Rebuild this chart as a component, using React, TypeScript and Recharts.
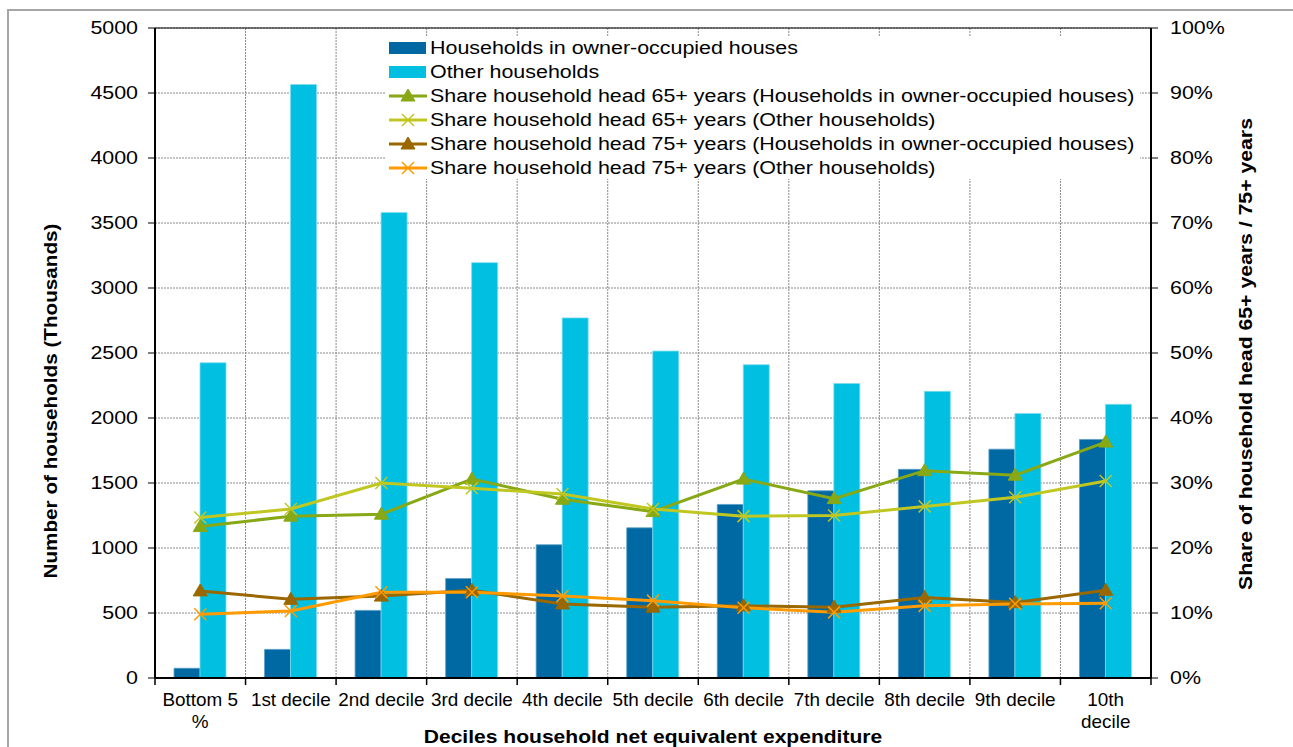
import React from "react";
import { ComposedChart, Bar, Line, XAxis, YAxis, CartesianGrid, ReferenceLine } from "recharts";

const categories = [
  "Bottom 5\n%",
  "1st decile",
  "2nd decile",
  "3rd decile",
  "4th decile",
  "5th decile",
  "6th decile",
  "7th decile",
  "8th decile",
  "9th decile",
  "10th\ndecile",
];
const ownerHouseholds = [75, 220, 520, 765, 1025, 1155, 1335, 1440, 1605, 1760, 1835];
const otherHouseholds = [2425, 4565, 3580, 3195, 2770, 2515, 2410, 2265, 2205, 2035, 2105];
const share65Owner = [23.3, 24.9, 25.2, 30.6, 27.5, 25.6, 30.6, 27.6, 31.9, 31.2, 36.3];
const share65Other = [24.7, 26.0, 30.0, 29.2, 28.3, 26.0, 24.9, 25.0, 26.4, 27.8, 30.3];
const share75Owner = [13.4, 12.1, 12.6, 13.5, 11.4, 10.9, 11.1, 10.9, 12.4, 11.6, 13.5];
const share75Other = [9.8, 10.3, 13.2, 13.2, 12.6, 11.9, 10.8, 10.1, 11.1, 11.4, 11.5];
const leftTicks = [0, 500, 1000, 1500, 2000, 2500, 3000, 3500, 4000, 4500, 5000];
const rightTicks = [0, 10, 20, 30, 40, 50, 60, 70, 80, 90, 100];

const data = categories.map((name, i) => ({
  name,
  owner: ownerHouseholds[i],
  other: otherHouseholds[i],
  s65owner: share65Owner[i],
  s65other: share65Other[i],
  s75owner: share75Owner[i],
  s75other: share75Other[i],
}));

const W = 1293;
const H = 747;
const LEFT_W = 155;
const RIGHT_W = 142;
const X_H = 69;
const TOP = 28;
const AXIS_Y = H - X_H;
const BAND = (W - LEFT_W - RIGHT_W) / categories.length;
const SX = 1.19;
const FONT = "'Liberation Sans', Arial, sans-serif";

const C_OWNER = "#0069A3";
const C_OTHER = "#00BFE1";
const C_65OWN = "#88A815";
const C_65OTH = "#C1C721";
const C_75OWN = "#9A6700";
const C_75OTH = "#FF9A00";

const series = [
  { key: "s65owner", color: C_65OWN, marker: "tri", label: "Share household head 65+ years (Households in owner-occupied houses)" },
  { key: "s65other", color: C_65OTH, marker: "x", label: "Share household head 65+ years (Other households)" },
  { key: "s75owner", color: C_75OWN, marker: "tri", label: "Share household head 75+ years (Households in owner-occupied houses)" },
  { key: "s75other", color: C_75OTH, marker: "x", label: "Share household head 75+ years (Other households)" },
];

function Marker({ cx, cy, color, kind }: any) {
  if (cx == null || cy == null) return null;
  if (kind === "tri") {
    return <polygon points={`${cx},${cy - 7} ${cx - 7},${cy + 5} ${cx + 7},${cy + 5}`} fill={color} stroke={color} />;
  }
  return (
    <path
      d={`M${cx - 6},${cy - 6}L${cx + 6},${cy + 6}M${cx + 6},${cy - 6}L${cx - 6},${cy + 6}`}
      stroke={color}
      strokeWidth={1.5}
      fill="none"
    />
  );
}

function LeftTick({ x, y, payload }: any) {
  return (
    <text transform={`translate(${x},${y}) scale(${SX},1)`} textAnchor="end" dy="0.36em" fontSize={18} fontFamily={FONT} fill="#000">
      {payload.value}
    </text>
  );
}

function RightTick({ x, y, payload }: any) {
  return (
    <text transform={`translate(${x},${y}) scale(${SX},1)`} textAnchor="start" dy="0.36em" fontSize={18} fontFamily={FONT} fill="#000">
      {payload.value}%
    </text>
  );
}

function CatTick({ x, payload, index }: any) {
  const lines = String(payload.value).split("\n");
  const left = x - BAND / 2;
  return (
    <g>
      <line x1={left} x2={left} y1={AXIS_Y} y2={AXIS_Y + 7} stroke="#000" strokeWidth={1.5} />
      {index === categories.length - 1 && (
        <line x1={x + BAND / 2} x2={x + BAND / 2} y1={AXIS_Y} y2={AXIS_Y + 7} stroke="#000" strokeWidth={1.5} />
      )}
      <text transform={`translate(${x},${AXIS_Y + 28}) scale(1.05,1)`} textAnchor="middle" fontSize={18} fontFamily={FONT} fill="#000">
        {lines.map((l, i) => (
          <tspan key={i} x={0} dy={i === 0 ? 0 : 22}>
            {l}
          </tspan>
        ))}
      </text>
    </g>
  );
}

function Legend() {
  const rows = [
    { color: C_OWNER, marker: "bar", label: "Households in owner-occupied houses" },
    { color: C_OTHER, marker: "bar", label: "Other households" },
    ...series,
  ];
  return (
    <div style={{ position: "absolute", left: 385, top: 36, width: 755, height: 143, background: "#fff" }}>
      {rows.map((r, i) => (
        <div key={i} style={{ position: "absolute", left: 0, top: i * 24, height: 24, width: 755 }}>
          <svg width={40} height={24} style={{ position: "absolute", left: 3, top: 0 }}>
            {r.marker === "bar" ? (
              <rect x={1} y={6} width={37} height={12} fill={r.color} />
            ) : (
              <g>
                <line x1={1} x2={39} y1={12} y2={12} stroke={r.color} strokeWidth={3} />
                <Marker cx={20} cy={12} color={r.color} kind={r.marker} />
              </g>
            )}
          </svg>
          <span
            style={{
              position: "absolute",
              left: 45,
              top: 0,
              lineHeight: "24px",
              fontSize: 18,
              fontFamily: FONT,
              color: "#000",
              whiteSpace: "nowrap",
              transform: `scaleX(${SX})`,
              transformOrigin: "left center",
            }}
          >
            {r.label}
          </span>
        </div>
      ))}
    </div>
  );
}

export default function App() {
  return (
    <div style={{ position: "absolute", left: 0, top: 0, width: W, height: H, overflow: "hidden", background: "#fff" }}>
      <div style={{ position: "absolute", left: 7, top: 9, right: -5, bottom: -5, borderTop: "2px solid #A6A6A6", borderLeft: "2px solid #A6A6A6" }} />
      <ComposedChart width={W} height={H} data={data} margin={{ top: TOP, right: 0, bottom: 0, left: 0 }} barGap={0}>
        <CartesianGrid
          yAxisId="left"
          stroke="#8a8a8a"
          strokeDasharray="2 1"
          verticalCoordinatesGenerator={({ offset }: any) =>
            Array.from({ length: categories.length + 1 }, (_, i) => offset.left + (i * offset.width) / categories.length)
          }
        />
        <XAxis
          dataKey="name"
          height={X_H}
          interval={0}
          tickLine={false}
          axisLine={{ stroke: "#000", strokeWidth: 2 }}
          tick={<CatTick />}
        />
        <YAxis
          yAxisId="left"
          width={LEFT_W}
          domain={[0, 5000]}
          ticks={leftTicks}
          interval={0}
          tickSize={7}
          tickMargin={10}
          tickLine={{ stroke: "#000", strokeWidth: 1 }}
          axisLine={{ stroke: "#000", strokeWidth: 2 }}
          tick={<LeftTick />}
        />
        <YAxis
          yAxisId="right"
          orientation="right"
          width={RIGHT_W}
          domain={[0, 100]}
          ticks={rightTicks}
          interval={0}
          tickSize={7}
          tickMargin={12}
          tickLine={{ stroke: "#000", strokeWidth: 1 }}
          axisLine={{ stroke: "#000", strokeWidth: 2 }}
          tick={<RightTick />}
        />
        <ReferenceLine yAxisId="left" y={5000} stroke="#000" strokeWidth={1} />
        <Bar yAxisId="left" dataKey="owner" fill={C_OWNER} stroke="#5A9DC6" strokeWidth={0.8} barSize={26} isAnimationActive={false} />
        <Bar yAxisId="left" dataKey="other" fill={C_OTHER} stroke="#7FDCF0" strokeWidth={0.8} barSize={26} isAnimationActive={false} />
        {series.map((s) => (
          <Line
            key={s.key}
            yAxisId="right"
            type="linear"
            dataKey={s.key}
            stroke={s.color}
            strokeWidth={3}
            dot={(p: any) => <Marker key={`${s.key}-${p.index}`} cx={p.cx} cy={p.cy} color={s.color} kind={s.marker} />}
            activeDot={false}
            isAnimationActive={false}
          />
        ))}
        <text transform={`translate(57,401) rotate(-90) scale(1.15,1)`} textAnchor="middle" fontSize={18} fontWeight="bold" fontFamily={FONT} fill="#000">
          Number of households (Thousands)
        </text>
        <text transform={`translate(1252,354) rotate(-90) scale(1.18,1)`} textAnchor="middle" fontSize={18} fontWeight="bold" fontFamily={FONT} fill="#000">
          Share of household head 65+ years / 75+ years
        </text>
        <text transform={`translate(653,743) scale(1.17,1)`} textAnchor="middle" fontSize={18} fontWeight="bold" fontFamily={FONT} fill="#000">
          Deciles household net equivalent expenditure
        </text>
      </ComposedChart>
      <Legend />
    </div>
  );
}
